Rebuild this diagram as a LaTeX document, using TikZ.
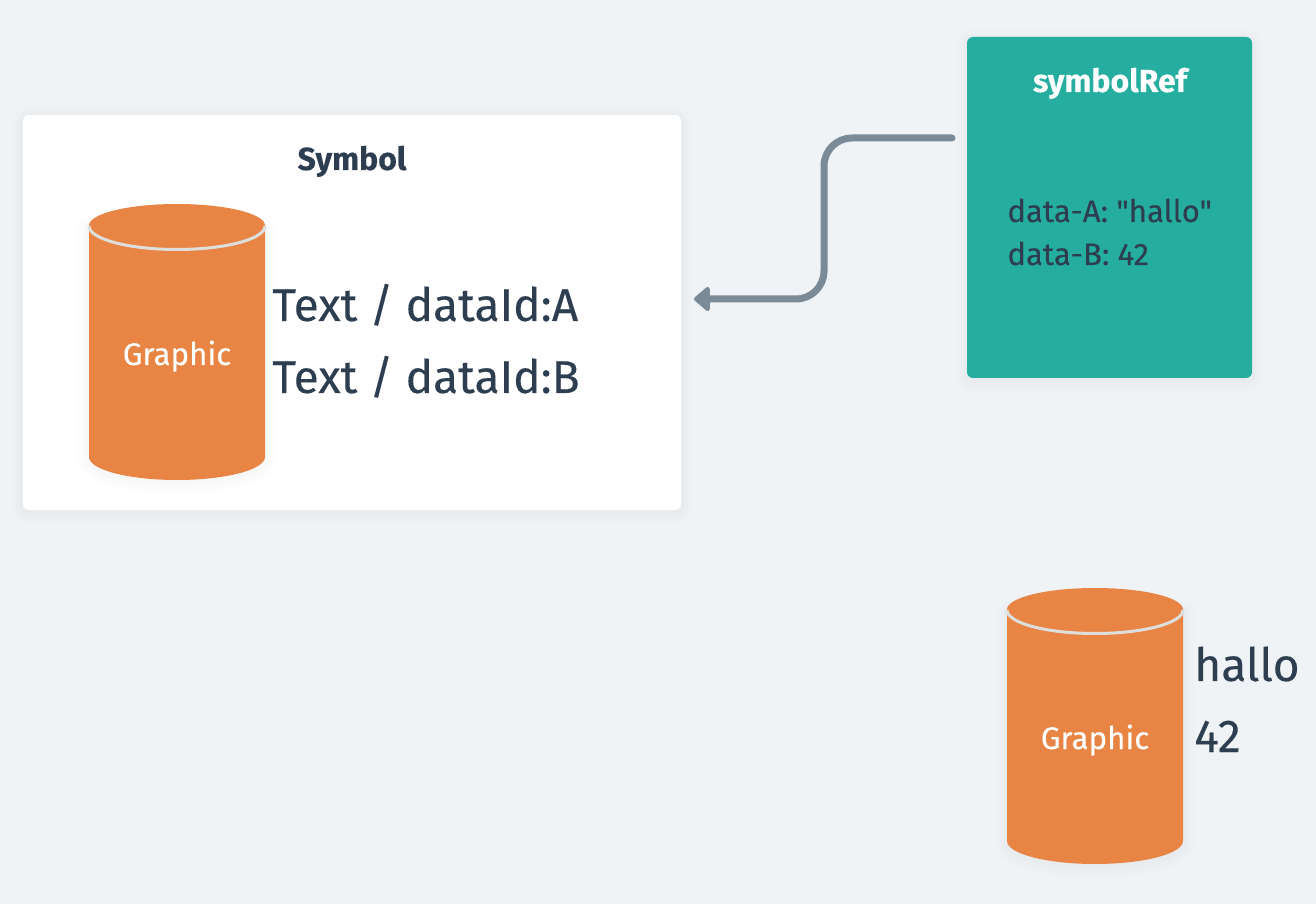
\documentclass[tikz,border=0pt]{standalone}
\usepackage{fontspec}
\setmainfont[Ligatures=TeXOff,FakeBold=.2]{Fira Sans}
\usetikzlibrary{arrows.meta}
\definecolor{pagebg}{HTML}{EFF3F6}
\definecolor{cardteal}{HTML}{25AE9F}
\definecolor{drumorange}{HTML}{E88544}
\definecolor{inkblue}{HTML}{2C3E50}
\definecolor{linkgrey}{HTML}{7B8A97}
\definecolor{rimgrey}{HTML}{DEDFDD}
\tikzset{
	softshade/.style={
		preaction={draw=black,draw opacity=.006,line width=.44cm,line join=round,transform canvas={yshift=-.06cm}},
		preaction={draw=black,draw opacity=.008,line width=.28cm,line join=round,transform canvas={yshift=-.06cm}},
		preaction={draw=black,draw opacity=.012,line width=.14cm,line join=round,transform canvas={yshift=-.04cm}}},
	card/.style={rounded corners=.12cm,inner sep=0pt,softshade},
	bigtext/.style={anchor=base west,inner sep=0pt,text=inkblue,font=\fontsize{26.2}{30}\selectfont},
	smalltext/.style={anchor=base west,inner sep=0pt,text=inkblue,font=\fontsize{17.7}{22}\selectfont},
	headtext/.style={anchor=base,inner sep=0pt,font=\bfseries\fontsize{18.2}{20}\selectfont},
	drumtext/.style={anchor=base,inner sep=0pt,text=white,font=\fontsize{17.8}{20}\selectfont},
	linkline/.style={draw=linkgrey,line width=.14cm,line cap=round,rounded corners=.56cm}
}
% one drum: left end of the top ellipse, label name
\def\drum(#1,#2)(#3){
	\draw[fill=drumorange,draw=none,softshade] (#1,#2) -- (#1,#2-4.62) arc (180:360:1.76 and .46) -- (#1+3.52,#2) -- cycle;
	\fill[drumorange] (#1+1.76,#2+.01) ellipse (1.76 and .43);
	\draw[rimgrey,line width=.06cm] (#1,#2) arc (180:360:1.76 and .47);
	\node[drumtext] (#3) at (#1+1.76,#2-2.78) {Graphic};
}
\begin{document}
\begin{tikzpicture}
		%%%%% START %%%%%
		\fill[pagebg] (0, 0) rectangle (26.32, -18.08);
		\useasboundingbox (0, 0) rectangle (26.32, -18.08);

		\node[card,fill=white,minimum width=13.16cm,minimum height=7.9cm] (symbolBox) at (7.04, -6.25) {};
		\node[card,fill=cardteal,minimum width=5.7cm,minimum height=6.82cm] (symbolRef) at (22.19, -4.15) {};

		\node[headtext,text=inkblue] (symbolTitle) at (7.04, -3.4) {Symbol};
		\node[headtext,text=white] (refTitle) at (22.2, -1.84) {symbolRef};

		\drum(1.78,-4.52)(graphicA)
		\node[bigtext] (textA) at (5.44, -6.42) {Text / dataId:A};
		\node[bigtext] (textB) at (5.44, -7.86) {Text / dataId:B};

		\node[smalltext] (dataA) at (20.14, -4.44) {data-A: "hallo"};
		\node[smalltext] (dataB) at (20.14, -5.3) {data-B: 42};

		\drum(20.14,-12.2)(graphicB)
		\node[bigtext] (hallo) at (23.88, -13.62) {hallo};
		\node[bigtext] (fortytwo) at (23.88, -15.04) {42};

		\coordinate (refOut) at (19.04, -2.76);
		\coordinate (symbolIn) at (13.88, -5.98);
		\coordinate (bend) at (16.48, -4.4);
		\draw[linkline,-{Triangle[length=.34cm,width=.56cm,round]}] (refOut) -| (bend) |- (symbolIn);
		%%%%% END %%%%%
\end{tikzpicture}
\end{document}
